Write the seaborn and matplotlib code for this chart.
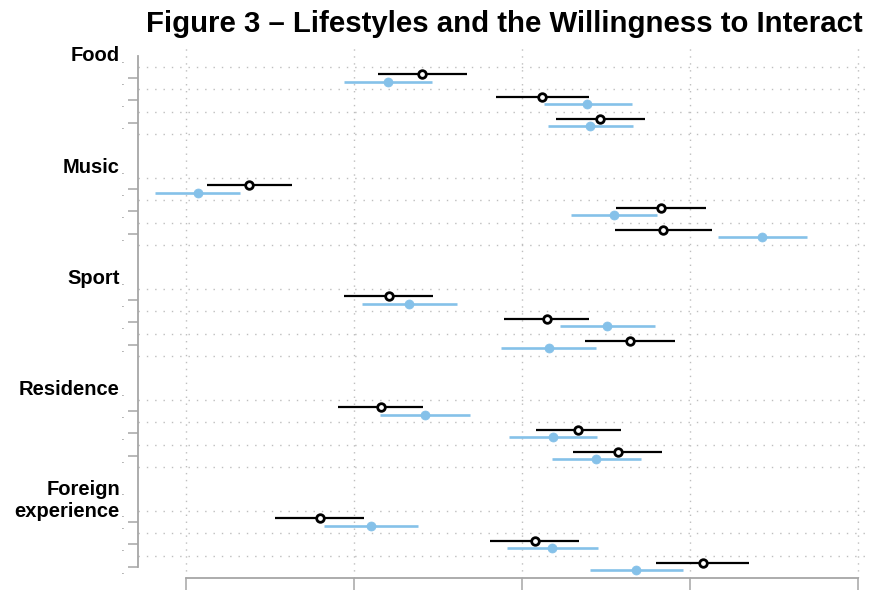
"""
Coefficient plot: lifestyles and the willingness to interact.
"""

import matplotlib
matplotlib.use("Agg")
import pandas as pd
import matplotlib.pyplot as plt
import seaborn as sns


# -----------------------------------
# Data
# -----------------------------------

groups = ["Food", "Music", "Sport", "Residence", "Foreign\nexperience"]
items_per_group = 3

black_est = [-0.298, 0.060, 0.233,
             -0.812, 0.413, 0.420,
             -0.397, 0.073, 0.323,
             -0.421, 0.167, 0.285,
             -0.603, 0.039, 0.539]
black_lo = [-0.430, -0.077, 0.102,
            -0.939, 0.281, 0.276,
            -0.529, -0.055, 0.189,
            -0.549, 0.041, 0.153,
            -0.735, -0.094, 0.400]
black_hi = [-0.164, 0.200, 0.367,
            -0.684, 0.547, 0.565,
            -0.264, 0.201, 0.455,
            -0.294, 0.296, 0.418,
            -0.470, 0.171, 0.677]

blue_est = [-0.400, 0.195, 0.204,
            -0.965, 0.274, 0.716,
            -0.336, 0.253, 0.080,
            -0.290, 0.091, 0.220,
            -0.450, 0.089, 0.341]
blue_lo = [-0.530, 0.066, 0.078,
           -1.093, 0.147, 0.584,
           -0.477, 0.114, -0.062,
           -0.422, -0.040, 0.088,
           -0.589, -0.046, 0.204]
blue_hi = [-0.268, 0.328, 0.331,
           -0.839, 0.402, 0.848,
           -0.194, 0.397, 0.221,
           -0.156, 0.222, 0.355,
           -0.311, 0.227, 0.480]

# tick labels sit below the crop in the original, so none are shown
x_ticks = [-1.0, -0.5, 0.0, 0.5, 1.0]

BLUE = "#85C1E9"
GRAY = "#A6A6A6"
GRID = "#BEBEBE"

# row layout: header row, 3 item rows, blank row
header_rows = [5 * g for g in range(len(groups))]
item_rows = [5 * g + 1 + i for g in range(len(groups))
             for i in range(items_per_group)]

df = pd.DataFrame({
    "row": item_rows,
    "black_est": black_est, "black_lo": black_lo, "black_hi": black_hi,
    "blue_est": blue_est, "blue_lo": blue_lo, "blue_hi": blue_hi,
})
df["y_black"] = df["row"] - 0.17
df["y_blue"] = df["row"] + 0.17


# -----------------------------------
# Figure
# -----------------------------------

sns.set_style("white")
plt.rcParams["font.family"] = ["Liberation Sans", "DejaVu Sans"]
plt.rcParams["text.color"] = "black"

fig = plt.figure(figsize=(8.69, 5.90), dpi=100)
# axes run past the right edge, like the cropped original
ax = fig.add_axes([138 / 869, 1 - 578 / 590, 768 / 869, 530 / 590])

# dotted grid
for g in range(len(groups)):
    for k in range(items_per_group + 1):
        r = 5 * g + k + 0.5
        if r > 23:
            continue
        ax.axhline(r, color=GRID, lw=1.0, ls=(0, (1, 5)), zorder=0)
for xt in x_ticks:
    ax.axvline(xt, color=GRID, lw=1.0, ls=(0, (1, 4)), zorder=0)

# intervals
ax.hlines(df["y_blue"], df["blue_lo"], df["blue_hi"],
          color=BLUE, lw=1.9, zorder=2)
ax.hlines(df["y_black"], df["black_lo"], df["black_hi"],
          color="black", lw=1.6, zorder=2)

# point estimates
sns.scatterplot(data=df, x="blue_est", y="y_blue", ax=ax,
                color=BLUE, edgecolor=BLUE, s=42, zorder=3)
sns.scatterplot(data=df, x="black_est", y="y_black", ax=ax,
                color="white", edgecolor="black", linewidth=2.0,
                s=30, zorder=4)

ax.set_xlim(-1.144, 1.144)
ax.set_ylim(23.51, -0.36)
ax.set_xlabel("")
ax.set_ylabel("")

ax.set_xticks(x_ticks, labels=[""] * len(x_ticks))
ax.set_yticks(item_rows, labels=[""] * len(item_rows))
ax.tick_params(axis="y", length=7.5, width=1.1, color=GRAY,
               direction="out", left=True)
ax.tick_params(axis="x", length=10, width=1.1, color=GRAY,
               direction="out", bottom=True)

for side in ["top", "right"]:
    ax.spines[side].set_visible(False)
for side in ["left", "bottom"]:
    ax.spines[side].set_color(GRAY)
    ax.spines[side].set_linewidth(1.3)
ax.spines["left"].set_bounds(0, 23)
ax.spines["bottom"].set_bounds(-1, 1)

# group headers
for g, name in enumerate(groups):
    ax.annotate(name, xy=(0, header_rows[g]),
                xycoords=("axes fraction", "data"),
                xytext=(-13, 0), textcoords="offset points",
                ha="right", va="center", fontsize=14.5,
                fontweight="bold", linespacing=1.2,
                annotation_clip=False)

# small dots used as row labels
dot_rows = [r + 0.31 for r in header_rows[:-1] + item_rows]
dot_rows += [header_rows[-1] - 0.55 + 0.31, header_rows[-1] + 0.45 + 0.31]
for r in dot_rows:
    ax.annotate(".", xy=(0, r), xycoords=("axes fraction", "data"),
                xytext=(-10.5, 0), textcoords="offset points",
                ha="right", va="baseline", fontsize=5,
                annotation_clip=False)

fig.text(146 / 869, 1 - 32 / 590,
         "Figure 3 \u2013 Lifestyles and the Willingness to Interact",
         ha="left", va="baseline", fontsize=21.15, fontweight="bold")

fig.savefig("out.png", dpi=100)
plt.close(fig)
